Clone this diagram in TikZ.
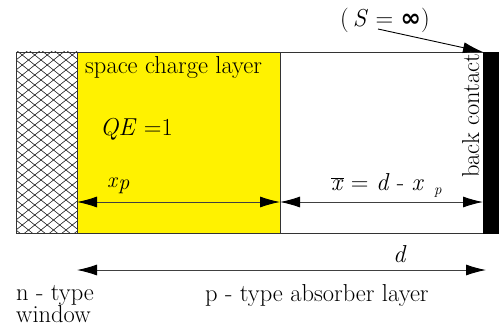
\documentclass[tikz,border=0pt]{standalone}
\usepackage{fontspec}
\newfontfamily\symfont{DejaVu Sans}
\usetikzlibrary{arrows.meta}
\begin{document}
\begin{tikzpicture}[x=1pt,y=-1pt,
  layer/.style={draw=black!80,line width=0.9pt,inner sep=0pt,anchor=north west,minimum height=181pt},
  dim/.style={line width=0.9pt,black!75,{Latex[length=20pt,width=11pt,black]}-{Latex[length=20pt,width=11pt,black]}},
  lbl/.style={inner sep=0pt,font=\rmfamily\fontsize{24.5}{20}\selectfont},
  hatch/.style={line width=0.5pt,black}]
\useasboundingbox (0,0) rectangle (500,329);
% layers
\node[layer,minimum width=61pt] (win) at (16,52) {};
\node[layer,fill=yellow,minimum width=203pt] (scl) at (77,52) {};
\node[layer,minimum width=203pt] (abs) at (280,52) {};
\node[layer,fill=black,draw=black,minimum width=15pt] (bc) at (483,52) {};
% hatch
\begin{scope}
\clip (win.north west) rectangle (win.south east);
\foreach \c in {0,10,...,290} {
  \draw[hatch] (16,\c) -- ++(61,48.8);
  \draw[hatch] (16,\c) -- ++(61,-48.8);
}
\end{scope}
\draw[draw=black!80,line width=0.9pt] (win.north west) rectangle (win.south east);
% texts
\node[lbl,anchor=base west] (sclt) at (85,74) {space charge layer};
\node[lbl,anchor=base west] (qe) at (100,135) {\textit{QE} =1};
\node[lbl,anchor=base west,font=\rmfamily\fontsize{22}{20}\selectfont] (xp) at (107,187) {\textit{x}\raisebox{-2pt}{\textit{p}}};
\node[lbl,anchor=base west] (xbar) at (331,190) {$\overline{\hbox{\rmfamily\textit{x}}}$ = \textit{d} - \textit{x}\hspace{10pt}\raisebox{-4pt}{\fontsize{15}{15}\selectfont\textit{p}}};
\node[lbl,anchor=base,rotate=90] (bct) at (479,116) {back contact};
\node[lbl,anchor=base west] (sinf) at (340,27) {(\,\textit{S} = {\symfont\bfseries ∞})};
\node[lbl,anchor=base west] (dl) at (393,262) {\textit{d}};
\node[lbl,anchor=base west] (nt) at (16,300) {n - type};
\node[lbl,anchor=base west] (nw) at (16,322) {window};
\node[lbl,anchor=base west] (pt) at (205,301) {p - type absorber layer};
% dimension arrows
\coordinate (a1) at (77,202);
\coordinate (a2) at (280,202);
\coordinate (a3) at (483,202);
\coordinate (d1) at (77,270);
\coordinate (d2) at (486,270);
\coordinate (s0) at (378,29);
\draw[dim] (a1) -- (a2);
\draw[dim] (a2) -- (a3);
\draw[dim] (d1) -- (d2);
\draw[line width=0.9pt,-{Latex[length=20pt,width=11pt]}] (s0) -- (bc.north west);
\end{tikzpicture}
\end{document}
